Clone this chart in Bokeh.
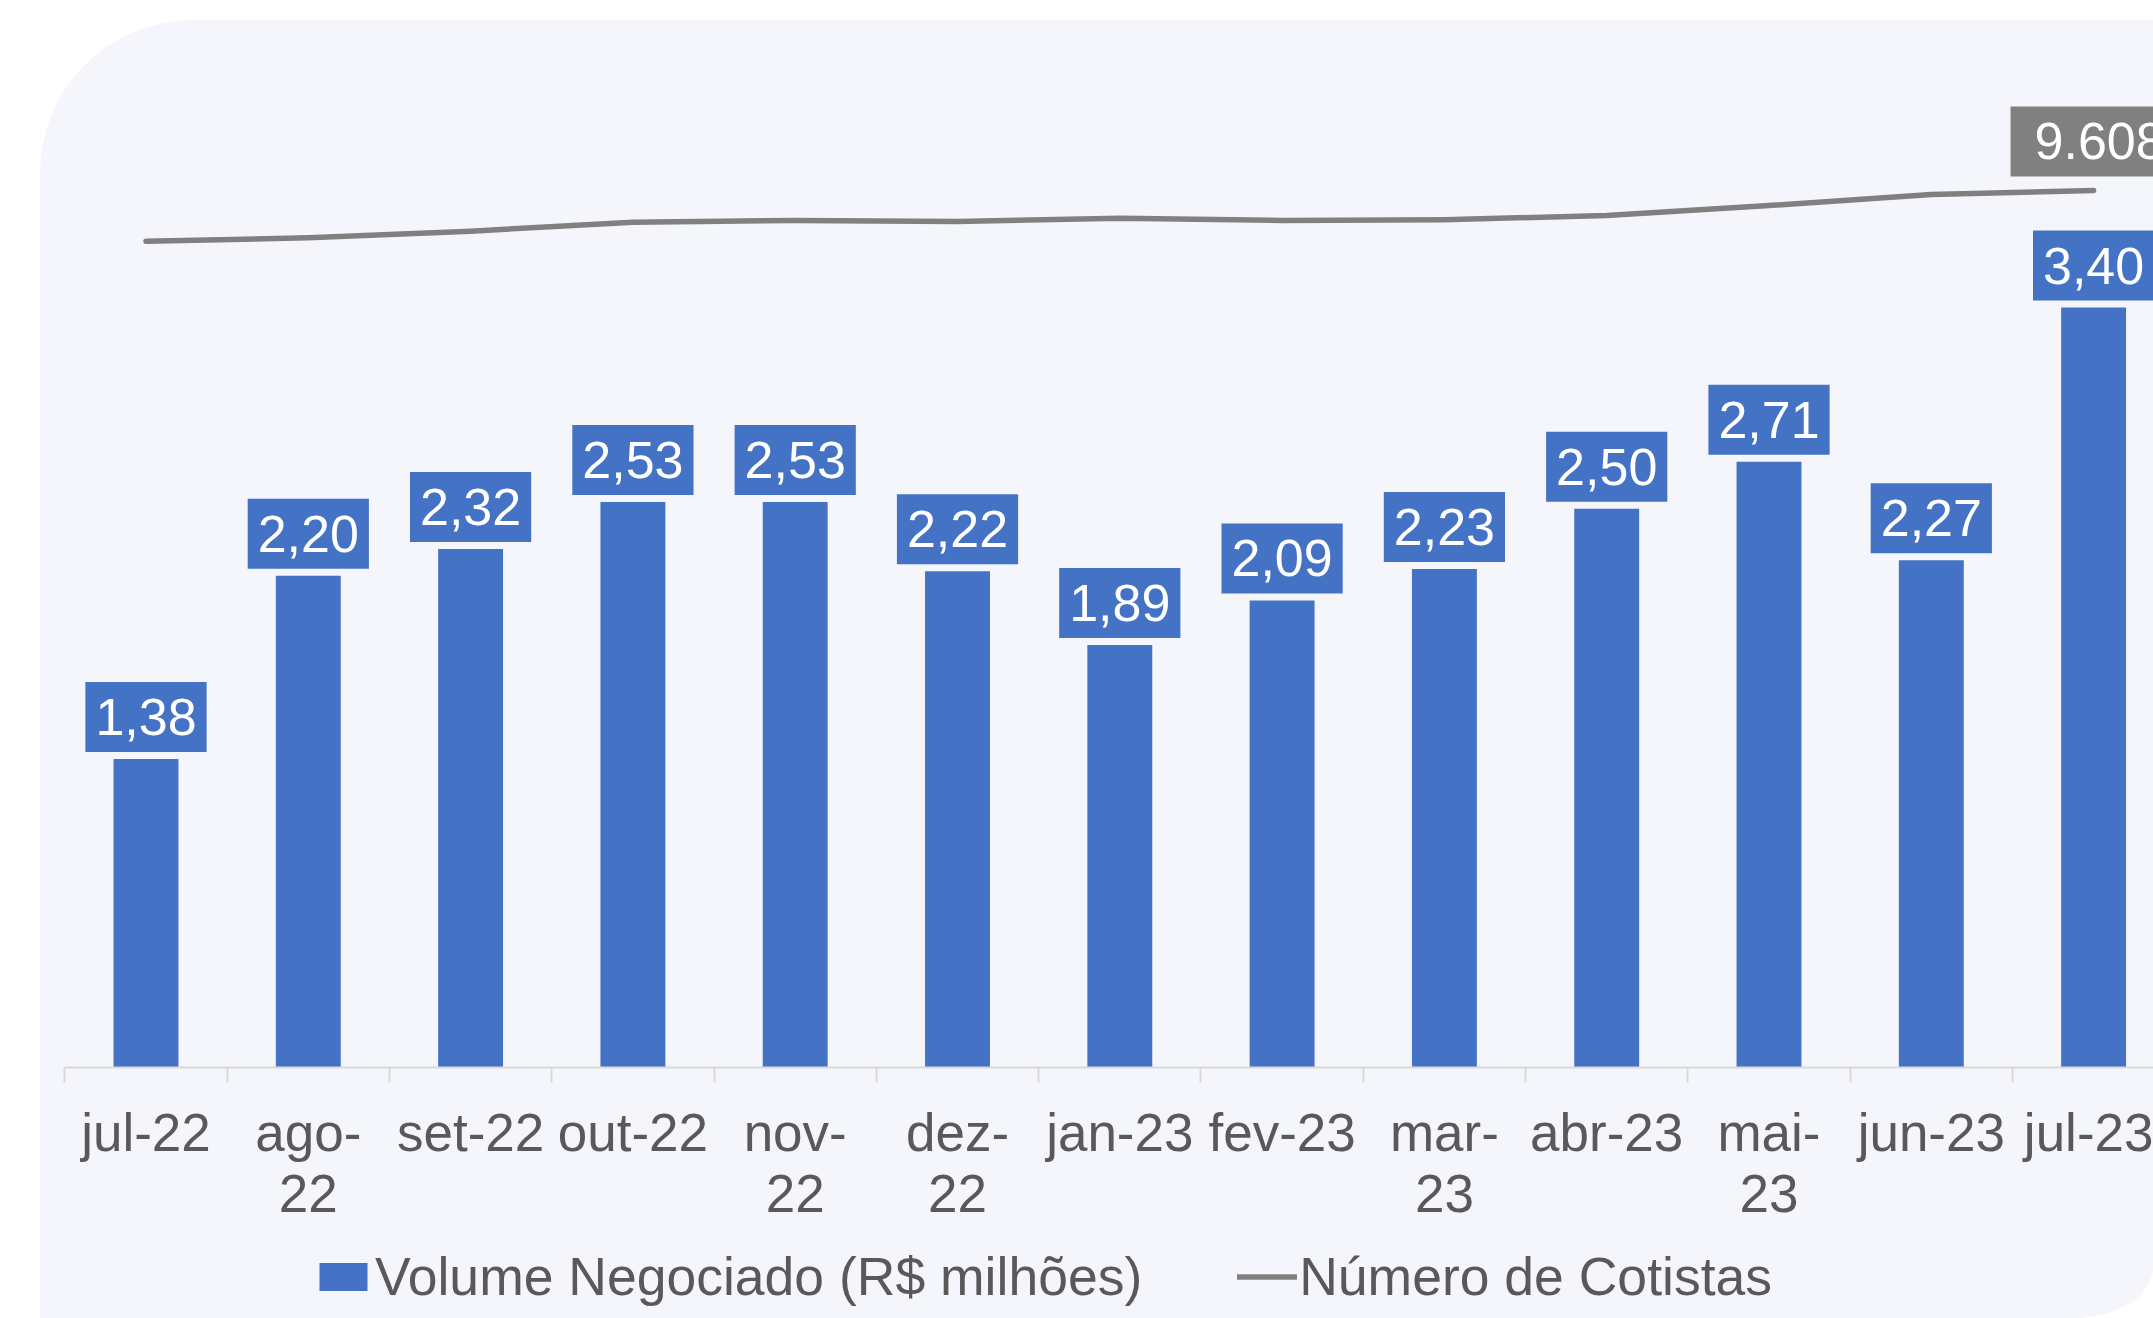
from bokeh.plotting import figure
from bokeh.models import ColumnDataSource, Range1d, FixedTicker, Legend, LegendItem
from bokeh.core.properties import value
from bokeh.embed import file_html
from bokeh.resources import INLINE

# ---- data ----
meses = ["jul-22", "ago-22", "set-22", "out-22", "nov-22", "dez-22", "jan-23",
         "fev-23", "mar-23", "abr-23", "mai-23", "jun-23", "jul-23"]
rotulos_eixo = ["jul-22", "ago-\n22", "set-22", "out-22", "nov-\n22", "dez-\n22", "jan-23",
                "fev-23", "mar-\n23", "abr-23", "mai-\n23", "jun-23", "jul-23"]
volume = [1.38, 2.20, 2.32, 2.53, 2.53, 2.22, 1.89, 2.09, 2.23, 2.50, 2.71, 2.27, 3.40]
cotistas = [9052, 9089, 9162, 9260, 9279, 9268, 9304, 9279, 9287, 9334, 9443, 9564, 9608]

serie_barras = "Volume Negociado (R$ milhões)"
serie_linha = "Número de Cotistas"

FONT = "Liberation Sans"
AZUL = "#4472C4"
CINZA = "#808080"
TEXTO = "#595959"
PAINEL = "#F4F6FB"

idx = list(range(len(meses)))
src = ColumnDataSource(dict(
    x=idx, mes=meses, volume=volume, cotistas=cotistas,
    rot=[f"{v:.2f}".replace(".", ",") for v in volume],
))
ult = ColumnDataSource(dict(
    x=[idx[-1]], y=[cotistas[-1]], rot=[f"{cotistas[-1]:,}".replace(",", ".")],
))

p = figure(width=2113, height=1298, output_backend="svg", toolbar_location=None,
           x_range=Range1d(-0.650, 12.369), y_range=Range1d(-1.1230, 4.6846),
           y_axis_location=None, x_axis_location="below",
           min_border_left=0, min_border_right=0, min_border_top=0, min_border_bottom=0,
           background_fill_color=None, border_fill_color=None, outline_line_color=None,
           margin=(20, 0, 0, 40))
p.styles = {"background-color": PAINEL,
            "border-top-left-radius": "153px",
            "border-bottom-right-radius": "78px 51px"}
p.extra_y_ranges = {"cot": Range1d(-2750, 11470)}
p.xgrid.visible = False
p.ygrid.visible = False

bars = p.vbar(x="x", top="volume", bottom=0, width=0.4, source=src,
              fill_color=AZUL, line_color=None)
line = p.line(x="x", y="cotistas", source=src, y_range_name="cot",
              line_color=CINZA, line_width=5.5, line_cap="round", line_join="round")

p.text(x="x", y="volume", text="rot", source=src, y_offset=-7,
       anchor="bottom_center", text_align="center", text_baseline="middle",
       padding=dict(left=10, right=10, top=17, bottom=17),
       background_fill_color=AZUL, text_color="white",
       text_font=value(FONT), text_font_size="52px")

p.text(x="x", y="y", text="rot", source=ult, y_range_name="cot", y_offset=-14, x_offset=6,
       anchor="bottom_center", text_align="center", text_baseline="middle",
       padding=dict(left=24, right=24, top=17, bottom=17),
       background_fill_color=CINZA, text_color="white",
       text_font=value(FONT), text_font_size="52px")

ax = p.xaxis[0]
ax.fixed_location = 0
ax.ticker = FixedTicker(ticks=idx, minor_ticks=[i - 0.5 for i in range(len(meses) + 1)])
ax.major_label_overrides = {i: l for i, l in zip(idx, rotulos_eixo)}
ax.bounds = (-0.5, len(meses) - 0.5)
ax.axis_line_color = "#D9D9D9"
ax.axis_line_width = 2
ax.major_tick_line_color = None
ax.major_tick_in = 0
ax.major_tick_out = 0
ax.minor_tick_line_color = "#D9D9D9"
ax.minor_tick_line_width = 2
ax.minor_tick_in = 0
ax.minor_tick_out = 15
ax.major_label_text_font = FONT
ax.major_label_text_font_size = "53px"
ax.major_label_text_color = TEXTO
ax.major_label_text_line_height = 1.05
ax.major_label_standoff = 20

legend = Legend(items=[LegendItem(label=serie_barras, renderers=[bars]),
                       LegendItem(label=serie_linha, renderers=[line])],
                orientation="horizontal", location=(273, 11),
                glyph_width=60, glyph_height=35, label_standoff=2, spacing=95,
                padding=0, margin=0, border_line_color=None,
                background_fill_alpha=0,
                label_text_font=FONT, label_text_font_size="53.5px",
                label_text_color=TEXTO)
p.add_layout(legend, "center")

open("out.html", "w").write(file_html(p, INLINE))
